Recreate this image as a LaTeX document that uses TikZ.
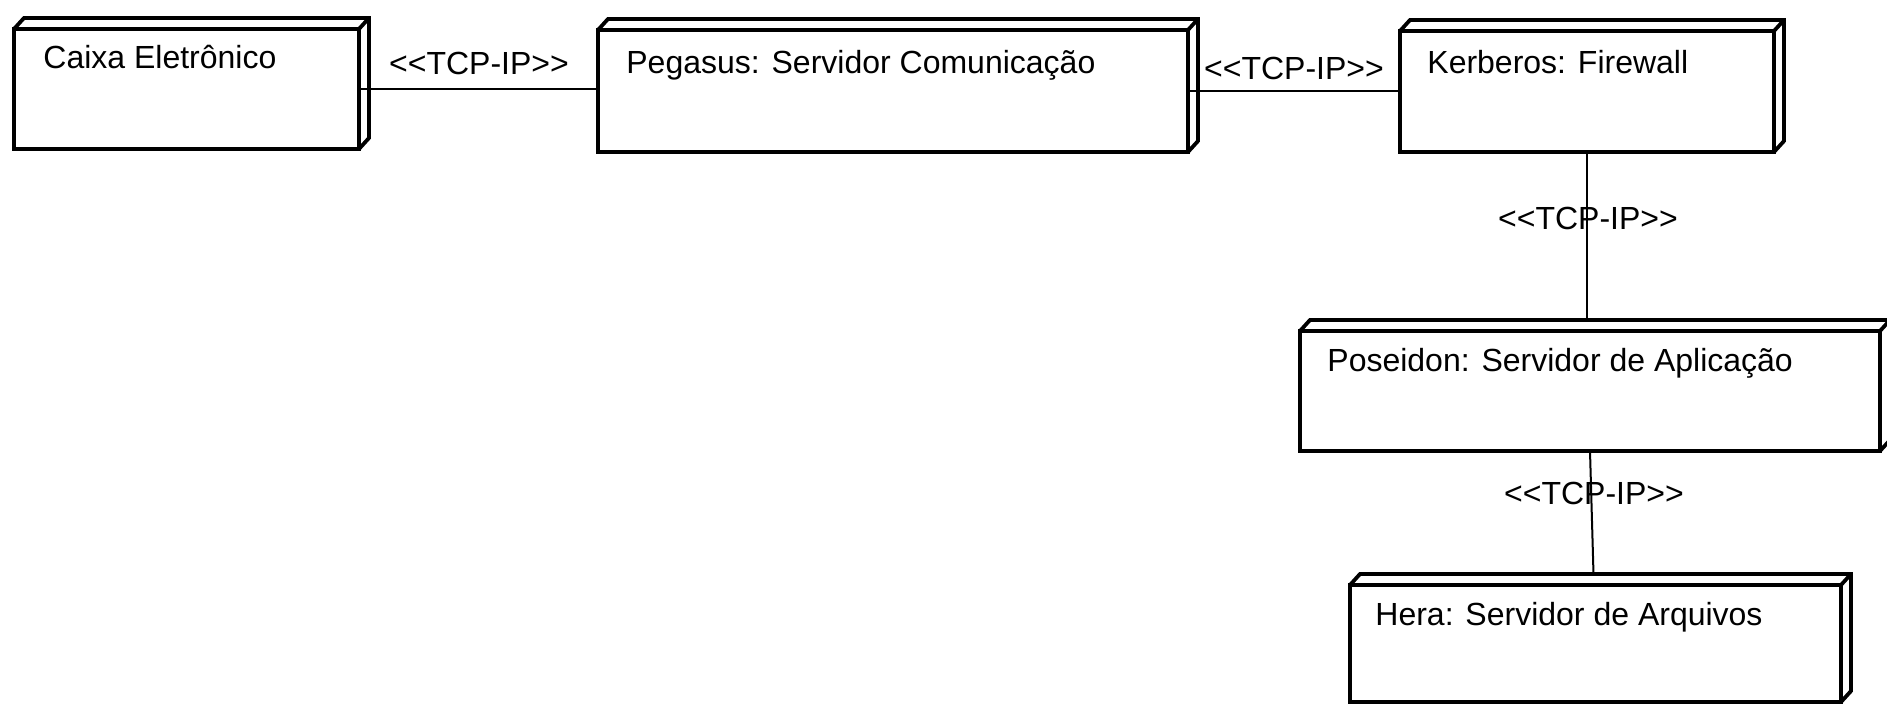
\documentclass[tikz,border=0pt]{standalone}
\usepackage{fontspec}
\setmainfont{Liberation Sans}[Ligatures=TeXOff]
\begin{document}
\begin{tikzpicture}[x=0.5pt,y=-0.5pt,
  nodebox/.style={draw, line width=1.9pt, rectangle, inner sep=0pt, outer sep=0pt, anchor=north west},
  depth/.style={draw, line width=1.9pt, line join=miter},
  nodetext/.style={anchor=base west, inner sep=0pt, font=\fontsize{16pt}{19pt}\selectfont},
  conn/.style={draw, line width=1pt},
  conntext/.style={anchor=base, inner sep=0pt, font=\fontsize{16pt}{19pt}\selectfont}]
\useasboundingbox (0,0) rectangle (1887,704);
% boxes
\node[nodebox, minimum width=172.5pt, minimum height=60pt] (n1) at (14,29) {};
\node[nodebox, minimum width=295pt, minimum height=61pt] (n2) at (598,30) {};
\node[nodebox, minimum width=187pt, minimum height=60.5pt] (n3) at (1400,31) {};
\node[nodebox, minimum width=290pt, minimum height=60pt] (n4) at (1300,331) {};
\node[nodebox, minimum width=245.5pt, minimum height=58.5pt] (n5) at (1350,585) {};
\foreach \b in {n1,n2,n3,n4,n5}{
  \draw[depth] (\b.north west) -- ++(10,-11) -- ([shift={(10,-11)}]\b.north east)
     -- ([shift={(10,-11)}]\b.south east) -- (\b.south east);
  \draw[depth] (\b.north east) -- ++(10,-11);
}
\coordinate (n4top) at ([shift={(10,-11)}]n4.north);
\coordinate (n5top) at ([shift={(-2,-11)}]n5.north);
% texts
\node[nodetext] (t1) at (43,69) {Caixa Eletrônico};
\node[nodetext] (t2) at (626,74) {Pegasus: Servidor Comunicação};
\node[nodetext] (t3) at (1427,74) {Kerberos: Firewall};
\node[nodetext] (t4) at (1327,372) {Poseidon: Servidor de Aplicação};
\node[nodetext] (t5) at (1375,626) {Hera: Servidor de Arquivos};
% connectors
\draw[conn] (n1.east) -- (n1.east -| n2.west);
\draw[conn] (n2.east) -- (n2.east -| n3.west);
\draw[conn] (n3.south) -- (n3.south |- n4top);
\draw[conn] (n4.south) -- (n5top);
% labels
\node[conntext] (l12) at (479,75) {<<TCP-IP>>};
\node[conntext] (l23) at (1294,80) {<<TCP-IP>>};
\node[conntext] (l34) at (1588,230) {<<TCP-IP>>};
\node[conntext] (l45) at (1594,505) {<<TCP-IP>>};
\end{tikzpicture}
\end{document}
